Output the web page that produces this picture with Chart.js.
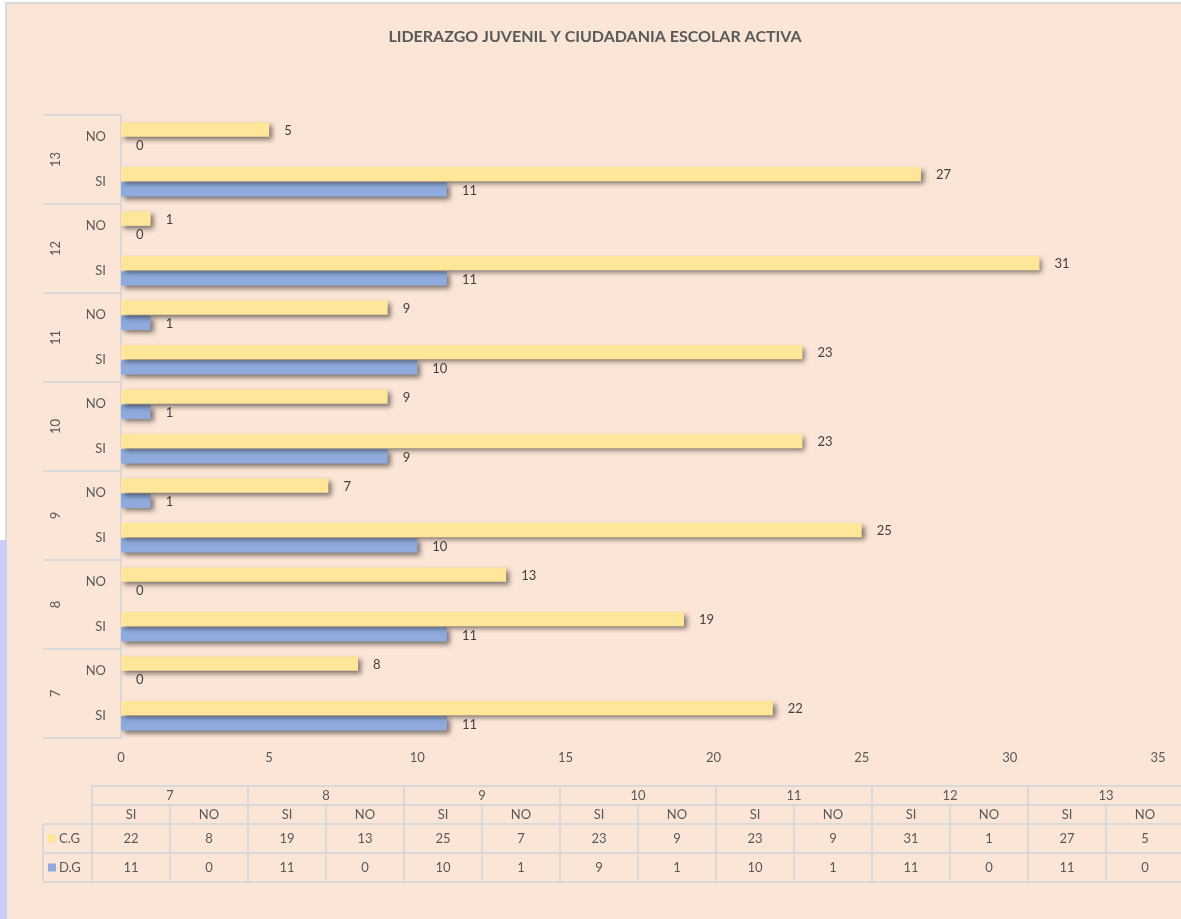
<!DOCTYPE html>
<html>
<head>
<meta charset="utf-8">
<script src="https://cdn.jsdelivr.net/npm/chart.js@4.4.0/dist/chart.umd.min.js"></script>
<style>
  html, body { margin: 0; padding: 0; background: #ffffff; }
  #wrap { width: 1181px; height: 919px; position: relative; }
</style>
</head>
<body>
<div id="wrap"><canvas id="liderazgoChart"></canvas></div>
<script>
// datos (orden de la tabla)
const grades = ['7', '8', '9', '10', '11', '12', '13'];
const answers = ['SI', 'NO'];
const seriesNames = ['C.G', 'D.G'];
const cgValues = [22, 8, 19, 13, 25, 7, 23, 9, 23, 9, 31, 1, 27, 5];
const dgValues = [11, 0, 11, 0, 10, 1, 9, 1, 10, 1, 11, 0, 11, 0];
const xMax = 35;
const xStep = 5;

const FONT = 'Lato, "Open Sans", sans-serif';
const TXT = '#595959';
const LINE = '#D9D9D9';
const YELLOW = '#FFE699';
const BLUE = '#8FAADC';

// el grafico de barras va de arriba (13 NO) hacia abajo (7 SI)
const labels = [];
const cgChart = [];
const dgChart = [];
for (let g = grades.length - 1; g >= 0; g--) {
    for (let a = answers.length - 1; a >= 0; a--) {
        labels.push(answers[a]);
        cgChart.push(cgValues[g * 2 + a]);
        dgChart.push(dgValues[g * 2 + a]);
    }
}

const decor = {
    id: 'decor',
    beforeDraw(chart) {
        const ctx = chart.ctx;
        const W = chart.width, H = chart.height;
        const area = chart.chartArea;
        ctx.save();
        ctx.fillStyle = '#FBE5D6';
        ctx.fillRect(0, 0, W, H);
        // bordes
        ctx.fillStyle = '#ffffff';
        ctx.fillRect(0, 0, W, 2);
        ctx.fillRect(0, 0, 5, H);
        ctx.fillStyle = LINE;
        ctx.fillRect(5, 2, W - 5, 2);
        ctx.fillRect(5, 2, 2, 540);
        ctx.fillStyle = '#CCCCFF';
        ctx.fillRect(0, 540, 7, H - 540);

        // titulo
        ctx.fillStyle = TXT;
        ctx.font = 'bold 16px ' + FONT;
        ctx.textAlign = 'center';
        ctx.textBaseline = 'middle';
        ctx.fillText('LIDERAZGO JUVENIL Y CIUDADANIA ESCOLAR ACTIVA', 595, 37);

        // grupos del eje Y
        const catH = (area.bottom - area.top) / labels.length;
        ctx.strokeStyle = LINE;
        ctx.lineWidth = 2;
        for (let i = 0; i <= grades.length; i++) {
            const y = area.top + i * catH * 2;
            ctx.beginPath();
            ctx.moveTo(43, y);
            ctx.lineTo(area.left, y);
            ctx.stroke();
        }
        ctx.font = '13px ' + FONT;
        for (let i = 0; i < grades.length; i++) {
            const g = grades[grades.length - 1 - i];
            const yc = area.top + (i + 0.5) * catH * 2;
            ctx.save();
            ctx.translate(56, yc);
            ctx.rotate(-Math.PI / 2);
            ctx.fillText(g, 0, 0);
            ctx.restore();
        }

        // tabla de datos
        const x0 = 92, colW = 78, legX = 43;
        const rows = [786, 805, 824, 853, 882];
        const nCols = grades.length * answers.length;
        const xEnd = x0 + colW * nCols;
        ctx.beginPath();
        ctx.moveTo(x0, rows[0]); ctx.lineTo(xEnd, rows[0]);
        ctx.moveTo(x0, rows[1]); ctx.lineTo(xEnd, rows[1]);
        ctx.moveTo(legX, rows[2]); ctx.lineTo(xEnd, rows[2]);
        ctx.moveTo(legX, rows[3]); ctx.lineTo(xEnd, rows[3]);
        ctx.moveTo(legX, rows[4]); ctx.lineTo(xEnd, rows[4]);
        ctx.moveTo(legX, rows[2]); ctx.lineTo(legX, rows[4]);
        for (let c = 0; c <= nCols; c++) {
            const x = x0 + c * colW;
            ctx.moveTo(x, c % 2 === 0 ? rows[0] : rows[1]);
            ctx.lineTo(x, rows[4]);
        }
        ctx.stroke();

        ctx.fillStyle = TXT;
        ctx.font = '13px ' + FONT;
        ctx.textAlign = 'center';
        for (let g = 0; g < grades.length; g++) {
            ctx.fillText(grades[g], x0 + (g + 0.5) * colW * 2, (rows[0] + rows[1]) / 2);
            for (let a = 0; a < answers.length; a++) {
                const c = g * 2 + a;
                const xc = x0 + (c + 0.5) * colW;
                ctx.fillText(answers[a], xc, (rows[1] + rows[2]) / 2);
                ctx.fillText(String(cgValues[c]), xc, (rows[2] + rows[3]) / 2);
                ctx.fillText(String(dgValues[c]), xc, (rows[3] + rows[4]) / 2);
            }
        }
        // leyenda en la tabla
        const keys = [YELLOW, BLUE];
        for (let s = 0; s < seriesNames.length; s++) {
            const yc = (rows[2 + s] + rows[3 + s]) / 2;
            ctx.fillStyle = keys[s];
            ctx.fillRect(48, yc - 4, 8, 8);
            ctx.fillStyle = TXT;
            ctx.textAlign = 'left';
            ctx.fillText(seriesNames[s], 59, yc);
        }
        ctx.restore();
    },
    beforeDatasetsDraw(chart) {
        const ctx = chart.ctx;
        ctx.save();
        ctx.shadowColor = 'rgba(0, 0, 0, 0.5)';
        ctx.shadowBlur = 5;
        ctx.shadowOffsetX = 3;
        ctx.shadowOffsetY = 3;
    },
    afterDatasetsDraw(chart) {
        const ctx = chart.ctx;
        ctx.restore();
        ctx.save();
        ctx.fillStyle = '#404040';
        ctx.font = '13px ' + FONT;
        ctx.textAlign = 'left';
        ctx.textBaseline = 'middle';
        chart.data.datasets.forEach(function (ds, di) {
            chart.getDatasetMeta(di).data.forEach(function (bar, i) {
                ctx.fillText(String(ds.data[i]), bar.x + 15, bar.y + 1);
            });
        });
        ctx.restore();
    }
};

const ctx = document.getElementById('liderazgoChart').getContext('2d');
new Chart(ctx, {
    type: 'bar',
    data: {
        labels: labels,
        datasets: [
            { label: seriesNames[0], data: cgChart, backgroundColor: YELLOW },
            { label: seriesNames[1], data: dgChart, backgroundColor: BLUE }
        ]
    },
    options: {
        indexAxis: 'y',
        responsive: true,
        maintainAspectRatio: false,
        animation: false,
        categoryPercentage: 0.68,
        barPercentage: 0.95,
        layout: { padding: { top: 115, right: 23, left: 0, bottom: 0 } },
        scales: {
            x: {
                min: 0,
                max: xMax,
                ticks: { stepSize: xStep, color: TXT, font: { family: FONT, size: 13 }, padding: 12 },
                grid: { display: false, drawTicks: false },
                border: { display: false },
                afterFit: function (s) { s.height = 181; }
            },
            y: {
                ticks: { color: TXT, font: { family: FONT, size: 13 }, padding: 15 },
                grid: { display: false, drawTicks: false },
                border: { display: true, color: LINE, width: 2 },
                afterFit: function (s) { s.width = 121; }
            }
        },
        plugins: {
            legend: { display: false },
            tooltip: { enabled: false }
        }
    },
    plugins: [decor]
});
</script>
</body>
</html>
